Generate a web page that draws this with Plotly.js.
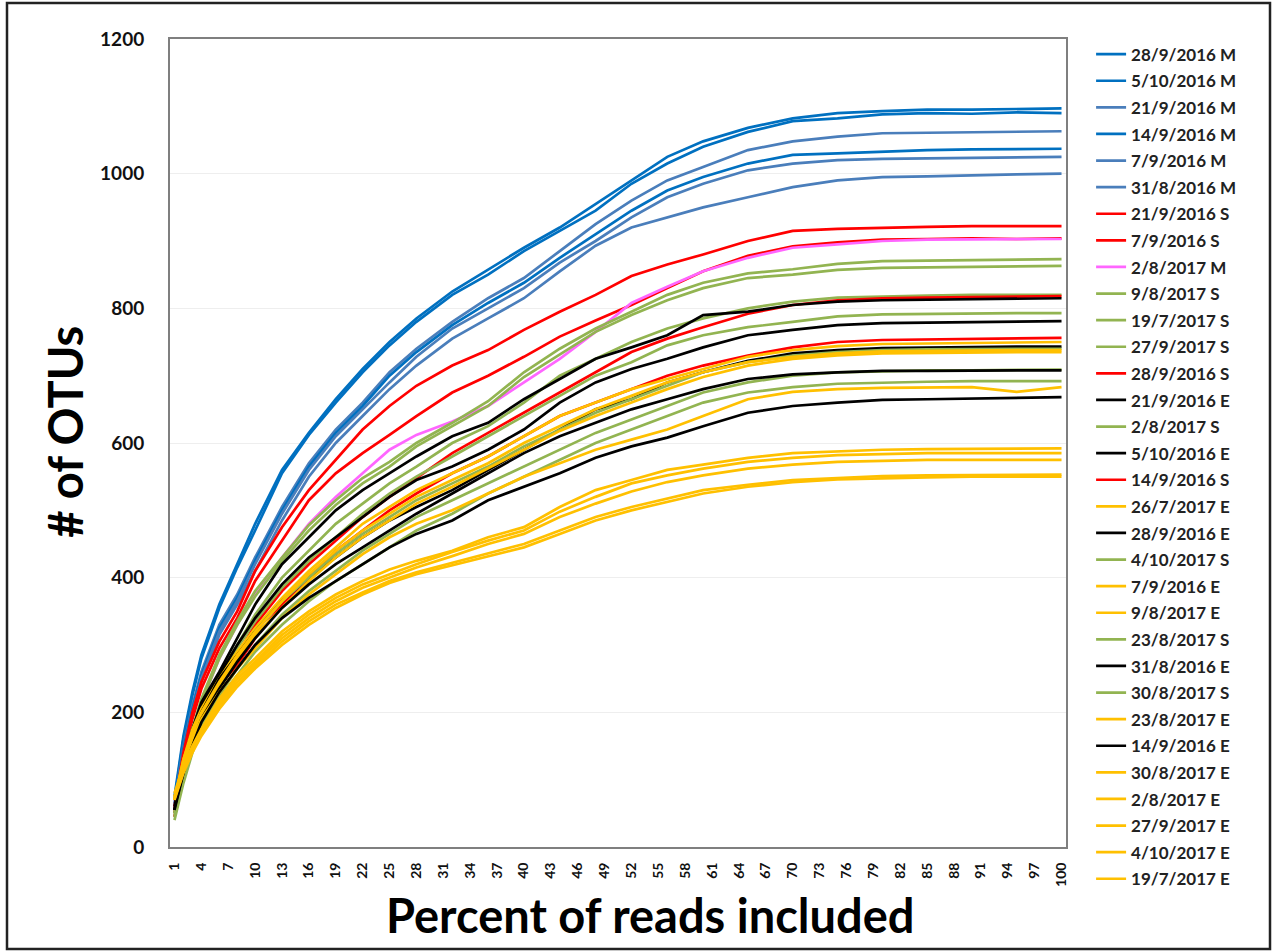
<!DOCTYPE html>
<html>
<head>
<meta charset="utf-8">
<script src="https://cdn.plot.ly/plotly-3.0.1.min.js"></script>
<style>
html,body{margin:0;padding:0;background:#fff;}
#chart{width:1273px;height:952px;}
</style>
</head>
<body>
<div id="chart"></div>
<script>
const percent = [1,2,3,4,6,8,10,13,16,19,22,25,28,32,36,40,44,48,52,56,60,65,70,75,80,85,90,95,100];

const seriesNames = [
  "28/9/2016 M","5/10/2016 M","21/9/2016 M","14/9/2016 M","7/9/2016 M","31/8/2016 M",
  "21/9/2016 S","7/9/2016 S","2/8/2017 M","9/8/2017 S","19/7/2017 S","27/9/2017 S",
  "28/9/2016 S","21/9/2016 E","2/8/2017 S","5/10/2016 E","14/9/2016 S","26/7/2017 E",
  "28/9/2016 E","4/10/2017 S","7/9/2016 E","9/8/2017 E","23/8/2017 S","31/8/2016 E",
  "30/8/2017 S","23/8/2017 E","14/9/2016 E","30/8/2017 E","2/8/2017 E","27/9/2017 E",
  "4/10/2017 E","19/7/2017 E"
];

const s01 = [75,165,230,285,360,420,480,560,615,665,710,750,785,825,858,890,920,955,990,1025,1048,1068,1082,1090,1093,1095,1095,1096,1097];
const s02 = [70,160,225,280,355,415,470,555,612,660,705,745,780,820,850,885,915,945,985,1015,1040,1062,1078,1082,1088,1090,1089,1091,1090];
const s03 = [65,150,210,260,330,375,430,505,570,620,660,705,740,780,815,845,885,925,960,990,1010,1035,1048,1055,1060,1061,1062,1063,1063];
const s04 = [60,145,205,255,325,370,425,500,565,615,655,700,735,775,808,838,875,910,945,975,995,1015,1028,1030,1033,1035,1036,1036,1037];
const s05 = [60,140,200,250,320,365,420,495,560,610,650,690,728,770,800,830,868,900,935,965,985,1005,1015,1020,1022,1023,1024,1024,1025];
const s06 = [55,135,195,245,315,360,410,485,550,600,640,680,715,755,785,815,855,893,920,935,950,965,980,990,995,996,998,999,1000];
const s07 = [60,140,200,245,305,350,410,475,530,575,620,655,685,715,738,768,795,820,848,865,880,900,915,918,920,921,922,922,922];
const s08 = [55,130,190,235,295,340,395,455,515,555,585,612,640,675,700,728,758,782,805,830,855,878,892,898,902,903,904,903,904];
const s09 = [55,120,175,215,280,330,375,430,480,520,555,590,612,632,655,690,725,765,808,832,855,875,890,895,900,902,902,903,903];
const s10 = [50,120,175,220,285,335,380,430,478,515,548,572,600,630,662,705,740,770,795,820,838,852,858,866,870,871,872,873,873];
const s11 = [45,115,170,215,280,330,372,425,470,508,540,565,595,625,655,698,732,765,790,812,830,845,850,857,860,861,862,863,863];
const s12 = [50,115,165,205,255,300,345,400,440,480,510,540,565,600,625,660,700,725,750,770,785,800,810,816,818,819,820,820,820];
const s13 = [50,110,160,200,245,285,330,380,420,455,490,520,548,585,615,645,675,705,735,755,772,792,805,812,815,816,817,818,818];
const s14 = [60,125,175,215,260,310,360,420,460,500,530,555,580,610,630,665,695,725,742,760,790,795,805,810,812,813,814,815,815];
const s15 = [50,110,160,200,250,295,335,385,425,460,495,525,550,580,610,640,670,700,720,745,760,772,780,788,791,792,793,793,793];
const s16 = [55,120,170,210,255,300,340,390,430,460,490,520,545,565,590,620,660,690,710,725,742,760,768,775,778,779,780,781,781];
const s17 = [45,100,150,190,240,270,310,360,400,440,470,500,525,555,580,610,640,660,680,700,715,730,742,750,753,754,755,756,756];
const s18 = [70,130,175,205,250,290,325,370,410,445,480,505,530,555,580,610,640,660,680,695,710,728,738,744,747,748,749,750,750];
const s19 = [55,115,165,200,250,285,320,365,400,430,460,485,505,530,560,590,620,650,665,690,705,722,733,738,741,742,743,743,743];
const s20 = [45,105,150,190,240,280,320,365,400,435,465,490,515,540,565,595,620,645,665,685,705,720,730,735,738,739,740,740,740];
const s21 = [70,130,170,200,245,285,320,365,405,440,470,495,520,545,570,600,625,650,670,690,705,720,728,733,736,737,738,738,738];
const s22 = [70,125,165,195,240,280,315,355,395,430,460,485,510,535,562,590,618,640,660,680,698,715,725,730,733,734,735,735,735];
const s23 = [50,100,145,180,225,265,300,345,380,410,440,465,490,515,540,565,590,615,635,655,675,690,700,705,707,708,708,709,709];
const s24 = [55,110,155,190,235,275,310,355,390,420,445,470,495,525,555,585,610,630,650,665,680,695,702,705,707,707,708,708,708];
const s25 = [40,95,140,175,220,255,290,330,365,395,420,445,470,495,525,550,575,600,620,640,660,675,683,688,690,691,692,692,692];
const s26 = [70,120,160,190,230,265,295,340,375,405,435,460,480,500,525,550,570,590,605,620,640,665,676,680,682,683,683,676,683];
const s27 = [55,110,150,185,230,265,300,340,370,395,420,445,465,485,515,535,555,578,595,608,625,645,655,660,664,665,666,667,668];
const s28 = [80,120,150,175,220,255,280,320,350,375,395,412,425,440,460,475,505,530,545,560,568,578,585,588,590,591,591,592,592];
const s29 = [75,118,148,172,215,250,275,315,345,370,390,405,420,438,455,470,498,520,540,552,562,572,578,582,584,585,585,585,585];
const s30 = [75,115,145,170,212,245,272,310,340,365,385,400,415,432,450,465,490,510,528,542,552,562,568,572,574,575,575,575,575];
const s31 = [72,112,142,168,208,240,268,305,335,360,378,395,408,422,436,450,470,490,505,518,530,538,545,548,551,552,552,553,553];
const s32 = [70,110,140,165,205,238,265,300,330,355,375,392,405,418,432,445,465,485,500,512,525,535,542,546,548,549,550,550,550];

const seriesValues = [s01,s02,s03,s04,s05,s06,s07,s08,s09,s10,s11,s12,s13,s14,s15,s16,
                      s17,s18,s19,s20,s21,s22,s23,s24,s25,s26,s27,s28,s29,s30,s31,s32];

const xTicks = [];
for (let t = 1; t <= 100; t += 3) xTicks.push(t);

const DB = "#0070C0", LB = "#4A7EBB", RD = "#FF0000", PK = "#FF66FF",
      GR = "#92B451", BK = "#000000", OR = "#FFC000";
const seriesColors = [DB,DB,LB,DB,LB,LB, RD,RD,PK,GR,GR,GR, RD,BK,GR,BK,RD,OR,
                      BK,GR,OR,OR,GR,BK, GR,OR,BK,OR,OR,OR, OR,OR];

const traces = seriesNames.map((n, i) => ({
  type: "scatter",
  mode: "lines",
  name: n,
  legendgroup: "g" + i,
  x: percent,
  y: seriesValues[i],
  line: {color: seriesColors[i], width: 2.7},
  hoverinfo: "x+y+name"
}));

const FONT = "Lato, 'Open Sans', Arial, sans-serif";

const layout = {
  width: 1273,
  height: 952,
  margin: {l: 170, r: 207, t: 39, b: 105},
  paper_bgcolor: "#ffffff",
  plot_bgcolor: "#ffffff",
  showlegend: true,
  legend: {
    x: 1.028, xanchor: "left",
    y: 1.003, yanchor: "top",
    font: {family: FONT, size: 17, color: "#222", weight: "bold"},
    traceorder: "grouped",
    tracegroupgap: 1.5,
    maxheight: 940,
    bgcolor: "rgba(0,0,0,0)"
  },
  xaxis: {
    type: "linear",
    range: [0.5, 100.5],
    tickmode: "array",
    tickvals: xTicks,
    ticktext: xTicks.map(String),
    tickangle: -90,
    tickfont: {family: FONT, size: 14, color: "#111", weight: "bold"},
    showgrid: false,
    zeroline: false,
    showline: true,
    mirror: true,
    linecolor: "#7f7f7f",
    linewidth: 2,
    ticks: "",
    ticklabelstandoff: 8
  },
  yaxis: {
    range: [0, 1200],
    dtick: 200,
    tickfont: {family: FONT, size: 19, color: "#111", weight: "bold"},
    showgrid: true,
    gridcolor: "#eeeeee",
    gridwidth: 1,
    zeroline: false,
    showline: true,
    mirror: true,
    linecolor: "#7f7f7f",
    linewidth: 2,
    ticks: "",
    ticklabelstandoff: 20
  },
  annotations: [
    {text: "Percent of reads included", xref: "paper", yref: "paper",
     x: 0.536, y: -0.084, xanchor: "center", yanchor: "middle", showarrow: false,
     font: {family: FONT, size: 47, color: "#000", weight: "bold"}},
    {text: "# of OTUs", xref: "paper", yref: "paper",
     x: -0.117, y: 0.514, xanchor: "center", yanchor: "middle", showarrow: false,
     textangle: -90,
     font: {family: FONT, size: 47, color: "#000", weight: "bold"}}
  ],
  shapes: [
    {type: "rect", xref: "paper", yref: "paper",
     x0: (7 - 170) / 896, x1: (1270 - 170) / 896,
     y0: (847 - 949) / 808, y1: (847 - 3) / 808,
     line: {color: "#222", width: 2.5}, fillcolor: "rgba(0,0,0,0)", layer: "below"}
  ]
};

Plotly.newPlot("chart", traces, layout, {displayModeBar: false, staticPlot: true});
</script>
</body>
</html>
